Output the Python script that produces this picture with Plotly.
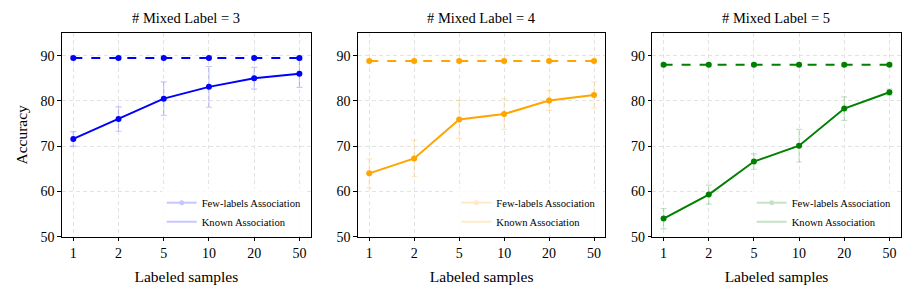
import plotly.graph_objects as go

samples = ["1", "2", "5", "10", "20", "50"]

few3 = [71.6, 76.0, 80.5, 83.1, 85.0, 86.0]
few3_err = [1.6, 2.7, 3.7, 4.5, 2.4, 3.0]
known3 = [89.5, 89.5, 89.5, 89.5, 89.5, 89.5]
known3_err = [0.3, 0.3, 0.3, 0.3, 0.3, 0.3]

few4 = [64.0, 67.3, 75.9, 77.1, 80.1, 81.3]
few4_err = [3.2, 4.0, 4.2, 3.4, 2.2, 2.9]
known4 = [88.8, 88.8, 88.8, 88.8, 88.8, 88.8]
known4_err = [0.3, 0.3, 0.3, 0.3, 0.3, 0.3]

few5 = [54.0, 59.3, 66.6, 70.1, 78.3, 81.9]
few5_err = [2.2, 2.1, 1.7, 3.6, 2.6, 0.7]
known5 = [88.0, 88.0, 88.0, 88.0, 88.0, 88.0]
known5_err = [0.3, 0.3, 0.3, 0.3, 0.3, 0.3]

titles = ["# Mixed Label = 3", "# Mixed Label = 4", "# Mixed Label = 5"]
colors = ["#0000ff", "#ffa500", "#008000"]
faint = ["rgba(0,0,255,0.22)", "rgba(255,165,0,0.22)", "rgba(0,128,0,0.22)"]

panels = [(few3, few3_err, known3, known3_err),
          (few4, few4_err, known4, known4_err),
          (few5, few5_err, known5, known5_err)]

W, H = 913, 298
xdoms = [(62 / W, 310.7 / W), (358 / W, 605.3 / W), (652.3 / W, 900.7 / W)]
ydom = (1 - 236.7 / H, 1 - 33 / H)

FONT = "Liberation Serif"
fig = go.Figure()

for i, (few, few_err, known, known_err) in enumerate(panels):
    xa = "x" if i == 0 else f"x{i+1}"
    ya = "y" if i == 0 else f"y{i+1}"
    lg = "legend" if i == 0 else f"legend{i+1}"
    c = colors[i]
    fig.add_trace(go.Scatter(
        x=samples, y=few, xaxis=xa, yaxis=ya, mode="lines+markers",
        line=dict(color=c, width=2), marker=dict(color=c, size=6),
        error_y=dict(type="data", array=few_err, color=faint[i], thickness=1.2, width=3),
        showlegend=False, hoverinfo="skip"))
    fig.add_trace(go.Scatter(
        x=samples, y=known, xaxis=xa, yaxis=ya, mode="lines+markers",
        line=dict(color=c, width=2, dash="dash"), marker=dict(color=c, size=6),
        error_y=dict(type="data", array=known_err, color=faint[i], thickness=1.2, width=3),
        showlegend=False, hoverinfo="skip"))
    fig.add_trace(go.Scatter(
        x=[None], y=[None], xaxis=xa, yaxis=ya, mode="lines+markers",
        name="Few-labels Association", line=dict(color=c, width=2),
        marker=dict(color=c, size=5), opacity=0.22, legend=lg))
    fig.add_trace(go.Scatter(
        x=[None], y=[None], xaxis=xa, yaxis=ya, mode="lines",
        name="Known Association", line=dict(color=c, width=2),
        opacity=0.22, legend=lg))

layout = dict(
    width=W, height=H, margin=dict(l=0, r=0, t=0, b=0, autoexpand=False),
    paper_bgcolor="white", plot_bgcolor="white",
    font=dict(family=FONT, color="black", size=11),
    annotations=[],
)

GRID = "#e3e3e3"
for i in range(3):
    sx = "" if i == 0 else str(i + 1)
    layout[f"xaxis{sx}"] = dict(
        domain=list(xdoms[i]), anchor=f"y{sx}", type="category", automargin=False,
        range=[-0.25, 5.25], showgrid=True, gridcolor=GRID, griddash="4px,3px",
        gridwidth=1, showline=True, linecolor="black", linewidth=1.2, mirror=True,
        ticks="outside", ticklen=3.5, tickwidth=1, tickcolor="black",
        tickfont=dict(size=14, family=FONT),
        title=dict(text="Labeled samples", font=dict(size=15.5, family=FONT), standoff=11),
        zeroline=False)
    layout[f"yaxis{sx}"] = dict(
        domain=list(ydom), anchor=f"x{sx}", range=[50, 95], automargin=False,
        tickvals=[50, 60, 70, 80, 90], showgrid=True, gridcolor=GRID,
        griddash="4px,3px", gridwidth=1, showline=True, linecolor="black",
        linewidth=1.2, mirror=True, ticks="outside", ticklen=3.5, tickwidth=1,
        tickcolor="black", tickfont=dict(size=14, family=FONT), zeroline=False,
        title=dict(text="Accuracy" if i == 0 else "", font=dict(size=15.5, family=FONT), standoff=9))
    lg = "legend" if i == 0 else f"legend{i+1}"
    layout[lg] = dict(
        x=xdoms[i][1] - 4 / W, y=ydom[0] + 0.5 / H, xanchor="right", yanchor="bottom",
        bgcolor="rgba(255,255,255,0.8)", borderwidth=0,
        font=dict(size=10.6, family=FONT), itemwidth=30, tracegroupgap=0)
    layout["annotations"].append(dict(
        text=titles[i], x=(xdoms[i][0] + xdoms[i][1]) / 2, y=1 - 18 / H,
        xref="paper", yref="paper", showarrow=False, xanchor="center", yanchor="middle",
        font=dict(size=14.5, family=FONT)))

fig.update_layout(**layout)
fig.write_html("out.html", config={"displayModeBar": False},
               post_script="document.body.style.margin='0px';")
